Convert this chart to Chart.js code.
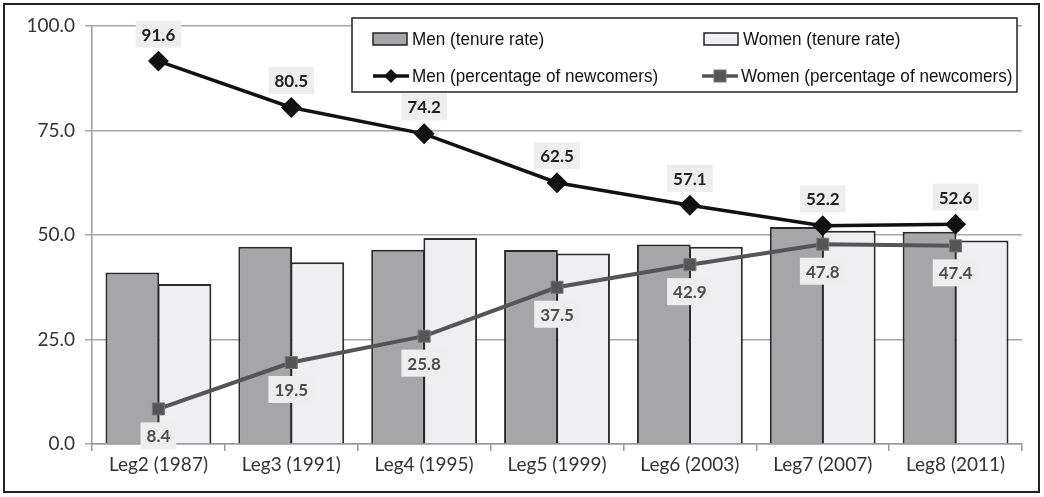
<!DOCTYPE html>
<html>
<head>
<meta charset="utf-8">
<script src="https://cdn.jsdelivr.net/npm/chart.js@4/dist/chart.umd.min.js"></script>
<style>
  body { margin: 0; background: #fff; }
  #wrap { position: relative; width: 1044px; height: 497px; }
</style>
</head>
<body>
<div id="wrap"><canvas id="chart0" width="1044" height="497"></canvas></div>
<script>
/** Data **/
const categories = ["Leg2 (1987)", "Leg3 (1991)", "Leg4 (1995)", "Leg5 (1999)", "Leg6 (2003)", "Leg7 (2007)", "Leg8 (2011)"];
const menTenure = [41.0, 47.2, 46.5, 46.4, 47.7, 51.9, 50.8];
const womenTenure = [38.3, 43.5, 49.3, 45.6, 47.2, 51.0, 48.7];
const menNewcomers = [91.6, 80.5, 74.2, 62.5, 57.1, 52.2, 52.6];
const womenNewcomers = [8.4, 19.5, 25.8, 37.5, 42.9, 47.8, 47.4];
const yTicks = [0, 25, 50, 75, 100];

const labelFont = "Lato, 'Open Sans', sans-serif";
const legendFont = "'Liberation Sans', Arial, sans-serif";

/** value labels drawn next to the line points **/
const valueLabels = {
    id: "valueLabels",
    afterDatasetsDraw(chart) {
        const ctx = chart.ctx;
        ctx.save();
        ctx.font = "bold 17px " + labelFont;
        ctx.textAlign = "center";
        ctx.textBaseline = "middle";
        chart.data.datasets.forEach(function(ds, i) {
            if (!ds.valueLabel) return;
            const meta = chart.getDatasetMeta(i);
            meta.data.forEach(function(pt, j) {
                const txt = ds.data[j].toFixed(1);
                const y = pt.y + ds.valueLabel.dy;
                const w = ctx.measureText(txt).width + 12;
                const h = 27;
                ctx.fillStyle = "#eeeeee";
                ctx.fillRect(pt.x - w / 2, y - h / 2, w, h);
                ctx.fillStyle = ds.valueLabel.color;
                ctx.fillText(txt, pt.x, y + 1);
            });
        });
        ctx.restore();
    }
};

/** boxed legend in the upper right plus outer frame **/
const boxLegend = {
    id: "boxLegend",
    afterDraw(chart) {
        const ctx = chart.ctx;
        ctx.save();
        // legend box
        ctx.fillStyle = "#fff";
        ctx.fillRect(352, 18, 665, 74);
        ctx.strokeStyle = "#222";
        ctx.lineWidth = 1.5;
        ctx.strokeRect(352, 18, 665, 74);

        const items = [
            {text: "Men (tenure rate)", x: 373, y: 39, kind: "bar", fill: "#a6a6a8"},
            {text: "Women (tenure rate)", x: 704, y: 39, kind: "bar", fill: "#efeff1"},
            {text: "Men (percentage of newcomers)", x: 373, y: 76, kind: "diamond", fill: "#111"},
            {text: "Women (percentage of newcomers)", x: 702, y: 76, kind: "square", fill: "#555"}
        ];
        items.forEach(function(it) {
            if (it.kind === "bar") {
                ctx.fillStyle = it.fill;
                ctx.fillRect(it.x, it.y - 6, 34, 12);
                ctx.strokeStyle = "#222";
                ctx.lineWidth = 1.5;
                ctx.strokeRect(it.x, it.y - 6, 34, 12);
            } else {
                ctx.strokeStyle = it.fill;
                ctx.lineWidth = 3.5;
                ctx.beginPath();
                ctx.moveTo(it.x, it.y);
                ctx.lineTo(it.x + 36, it.y);
                ctx.stroke();
                ctx.fillStyle = it.fill;
                const cx = it.x + 18;
                if (it.kind === "diamond") {
                    ctx.beginPath();
                    ctx.moveTo(cx, it.y - 7);
                    ctx.lineTo(cx + 7, it.y);
                    ctx.lineTo(cx, it.y + 7);
                    ctx.lineTo(cx - 7, it.y);
                    ctx.closePath();
                    ctx.fill();
                } else {
                    ctx.fillRect(cx - 6, it.y - 6, 12, 12);
                    ctx.strokeStyle = "#777";
                    ctx.lineWidth = 1;
                    ctx.strokeRect(cx - 6, it.y - 6, 12, 12);
                }
            }
            // slightly narrowed text, like the original
            ctx.save();
            ctx.translate(it.x + 39, it.y);
            ctx.scale(0.9, 1);
            ctx.font = "19px " + legendFont;
            ctx.textBaseline = "middle";
            ctx.textAlign = "left";
            ctx.fillStyle = "#111";
            ctx.fillText(it.text, 0, 1);
            ctx.restore();
        });

        // outer frame
        ctx.strokeStyle = "#222";
        ctx.lineWidth = 2;
        ctx.strokeRect(4, 4, 1035, 488);
        ctx.restore();
    }
};

const ctx = document.getElementById("chart0");
const chart = new Chart(ctx, {
    data: {
        labels: categories,
        datasets: [
            {
                type: "line",
                label: "Men (percentage of newcomers)",
                data: menNewcomers,
                borderColor: "#111",
                borderWidth: 3.5,
                pointStyle: "rectRot",
                pointRadius: 8,
                pointBackgroundColor: "#111",
                pointBorderColor: "#111",
                tension: 0,
                order: 1,
                valueLabel: {dy: -27, color: "#1e1e1e"}
            },
            {
                type: "line",
                label: "Women (percentage of newcomers)",
                data: womenNewcomers,
                borderColor: "#555",
                borderWidth: 4,
                pointStyle: "rect",
                pointRadius: 8.5,
                pointBackgroundColor: "#555",
                pointBorderColor: "#777",
                pointBorderWidth: 1,
                tension: 0,
                order: 2,
                valueLabel: {dy: 27, color: "#4d4d4d"}
            },
            {
                type: "bar",
                label: "Men (tenure rate)",
                data: menTenure,
                backgroundColor: "#a6a6a8",
                borderColor: "#2a2a2a",
                borderWidth: 2,
                categoryPercentage: 0.785,
                barPercentage: 1.03,
                order: 3
            },
            {
                type: "bar",
                label: "Women (tenure rate)",
                data: womenTenure,
                backgroundColor: "#efeff1",
                borderColor: "#2a2a2a",
                borderWidth: 2,
                categoryPercentage: 0.785,
                barPercentage: 1.03,
                order: 4
            }
        ]
    },
    options: {
        responsive: false,
        animation: false,
        devicePixelRatio: 1,
        layout: {
            padding: {top: 26, right: 22, bottom: 0, left: 0}
        },
        plugins: {
            legend: {display: false},
            tooltip: {enabled: false}
        },
        scales: {
            x: {
                grid: {
                    offset: true,
                    drawOnChartArea: false,
                    drawTicks: true,
                    tickLength: 7,
                    color: "#9a9a9a",
                    lineWidth: 1.5
                },
                border: {color: "#9a9a9a", width: 1.5},
                ticks: {
                    color: "#333",
                    font: {family: labelFont, size: 19},
                    padding: 2
                },
                afterFit: function(scale) { scale.height = 53; }
            },
            y: {
                min: 0,
                max: 100,
                afterBuildTicks: function(scale) {
                    scale.ticks = yTicks.map(function(v) { return {value: v}; });
                },
                grid: {
                    color: "#a6a6a6",
                    lineWidth: 1.5,
                    tickLength: 7
                },
                border: {color: "#9a9a9a", width: 1.5},
                ticks: {
                    color: "#333",
                    font: {family: labelFont, size: 19},
                    padding: 10,
                    callback: function(value) { return value.toFixed(1); }
                },
                afterFit: function(scale) { scale.width = 92; }
            }
        }
    },
    plugins: [valueLabels, boxLegend]
});
</script>
</body>
</html>
